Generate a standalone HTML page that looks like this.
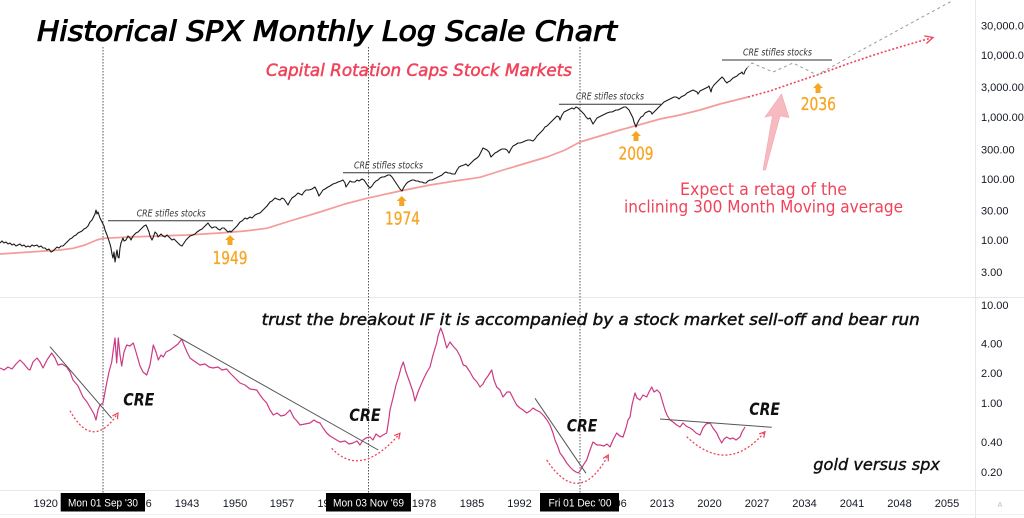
<!DOCTYPE html>
<html>
<head>
<meta charset="utf-8">
<style>
  html,body{margin:0;padding:0;background:#ffffff;}
  svg{display:block;}
  .ax{font-family:"Liberation Sans",Arial,sans-serif;font-size:11px;fill:#131722;}
  .ann{font-family:"DejaVu Sans","Liberation Sans",sans-serif;}
</style>
</head>
<body>
<svg width="1024" height="518" viewBox="0 0 1024 518" xmlns="http://www.w3.org/2000/svg">
  <defs>
    <marker id="chev" markerWidth="8" markerHeight="8" refX="6" refY="3.5" orient="auto" markerUnits="userSpaceOnUse">
      <path d="M0.5,0.5 L6,3.5 L0.5,6.5" fill="none" stroke="#f0435a" stroke-width="1.2"/>
    </marker>
    <marker id="chevBig" markerWidth="12" markerHeight="12" refX="9" refY="5" orient="auto" markerUnits="userSpaceOnUse">
      <path d="M1,1 L9,5 L1,9" fill="none" stroke="#f0435a" stroke-width="1.3"/>
    </marker>
    <clipPath id="topPane"><rect x="0" y="0" width="975" height="297"/></clipPath>
    <clipPath id="botPane"><rect x="0" y="297" width="975" height="193"/></clipPath>
  </defs>

  <rect x="0" y="0" width="1024" height="518" fill="#ffffff"/>

  <!-- frame lines -->
  <line x1="0" y1="297.5" x2="1024" y2="297.5" stroke="#e6e8ee" stroke-width="1"/>
  <line x1="0" y1="490.5" x2="1024" y2="490.5" stroke="#e6e8ee" stroke-width="1"/>
  <line x1="975.5" y1="0" x2="975.5" y2="518" stroke="#e6e8ee" stroke-width="1"/>
  <line x1="0" y1="514.5" x2="1024" y2="514.5" stroke="#f0f1f4" stroke-width="1"/>

  <!-- dotted vertical markers -->
  <g stroke="#555" stroke-width="1" stroke-dasharray="1.5,1.5">
    <line x1="103" y1="47" x2="103" y2="493"/>
    <line x1="368.5" y1="47" x2="368.5" y2="493"/>
    <line x1="580" y1="47" x2="580" y2="493"/>
  </g>

  <!-- ===== TOP PANE ===== -->
  <g clip-path="url(#topPane)">
    <!-- 300 month MA -->
    <polyline fill="none" stroke="#f49b9b" stroke-width="1.7" stroke-linejoin="round"
      points="0,254 30,252 60,250 73,248.3 85,245 96.7,240 103,238.3 130,237 160,236 186.7,235 220,233 245,231 266.7,228.3 290,221 320,212 345,204 366.7,198.3 400,191 430,185 455,181 480,177.3 500,171 520,165 547,157 565,150 580,142 600,136 620,130 635,126 660,119 680,115 700,110 720,104 748,97"/>
    <!-- MA projection dotted -->
    <polyline fill="none" stroke="#f0435a" stroke-width="1.6" stroke-dasharray="2,2" marker-end="url(#chevBig)"
      points="748,97 770,91 790,84 817,75 850,63 880,53 910,44 933,37.5"/>
    <!-- gray dashed projection -->
    <polyline fill="none" stroke="#9a9a9a" stroke-width="1" stroke-dasharray="3,3"
      points="747,68 752,63 773,72 793,63 817,75 870,45.5 916.7,20 952,1"/>

    <!-- SPX -->
    <path fill="none" stroke="#1a1a1a" stroke-width="1.1" stroke-linejoin="round" d="M0,243 L2,241 L4,243 L6,242 L8,244 L10,243 L12,245 L14,244 L16,246 L18,245 L20,244 L22,246 L24,245 L26,247 L28,246 L30,247 L32,245 L34,246 L37,245 L39,247 L41,246 L43,248 L45,248 L47,250 L49,249 L51,252 L53,251 L55,249 L57,247 L59,248 L61,246 L63,246 L65,244 L67,242 L70,239 L72,238 L74,236 L76,235 L78,233 L80,232 L82,231 L84,229 L86,228 L88,226 L90,222 L92,220 L93,218 L95,214 L96,210 L97,214 L98,212 L100,218 L102,222 L104,226 L105,230 L107,235 L108,238 L110,244 L111,248 L112,254 L113,258 L114,252 L115,262 L116,256 L117,250 L118,257 L119,258 L120,248 L121,243 L123,238 L124,241 L126,240 L128,236 L130,238 L131,240 L133,236 L134,235 L136,233 L138,232 L140,230 L142,228 L144,226 L146,225 L147,227 L149,232 L150,236 L152,240 L153,238 L155,232 L157,234 L158,237 L160,235 L161,234 L163,236 L165,237 L167,235 L168,236 L170,238 L172,240 L174,239 L176,241 L178,243 L180,245 L182,246 L184,243 L186,240 L188,238 L190,236 L193,235 L195,234 L197,232 L200,230 L202,229 L205,226 L207,224 L208,223 L210,226 L212,228 L214,227 L216,227 L218,229 L220,230 L222,228 L224,228 L226,230 L228,232 L230,231 L231,232 L233,230 L235,228 L237,226 L240,222 L242,221 L245,218 L247,219 L250,217 L252,218 L255,215 L257,214 L260,213 L262,211 L265,208 L267,206 L270,202 L272,201 L275,198 L277,199 L280,200 L282,198 L284,199 L286,202 L288,205 L290,201 L292,198 L295,196 L298,193 L300,194 L302,195 L304,192 L306,190 L309,190 L312,189 L315,187 L317,191 L319,196 L321,193 L323,190 L325,189 L328,187 L330,186 L333,184 L336,183 L338,182 L341,181 L343,180 L345,183 L346,187 L348,184 L350,181 L352,182 L355,182 L357,180 L359,181 L362,179 L364,180 L366,183 L368,186 L370,188 L372,186 L374,183 L376,181 L378,180 L380,178 L382,177 L384,177 L386,176 L388,175 L390,175 L392,177 L394,180 L396,183 L398,186 L400,189 L402,191 L404,187 L406,184 L408,182 L410,181 L412,180 L414,180 L416,181 L418,181 L420,182 L422,182 L424,183 L426,183 L428,181 L430,180 L432,180 L434,179 L436,178 L438,177 L440,176 L442,175 L444,173 L446,172 L448,173 L450,173 L452,174 L455,174 L457,170 L459,167 L461,166 L464,165 L466,164 L468,166 L470,164 L472,162 L474,160 L477,158 L479,156 L481,152 L483,148 L485,149 L487,150 L489,152 L491,157 L493,155 L495,153 L497,152 L500,150 L502,149 L505,149 L507,150 L509,153 L511,149 L513,146 L515,145 L518,143 L520,143 L523,142 L525,141 L528,140 L530,140 L533,141 L535,139 L537,136 L539,134 L541,132 L543,130 L545,127 L547,126 L549,124 L551,122 L553,120 L555,118 L557,116 L559,117 L560,120 L562,115 L564,112 L566,111 L568,110 L570,109 L572,108 L574,109 L576,107 L578,108 L580,110 L582,112 L584,114 L586,117 L588,119 L590,118 L592,122 L593,124 L595,121 L597,118 L599,117 L601,116 L603,115 L605,114 L607,113 L610,112 L612,112 L614,111 L616,110 L618,110 L620,109 L622,108 L624,107 L626,107 L627,108 L629,110 L631,114 L633,118 L634,122 L636,127 L637,124 L639,120 L641,117 L643,116 L645,113 L647,112 L649,111 L651,112 L652,114 L654,112 L656,110 L658,108 L660,106 L662,104 L664,102 L666,101 L668,100 L670,99 L672,98 L674,97 L676,97 L678,98 L679,99 L681,97 L683,96 L685,95 L687,93 L689,92 L691,91 L693,90 L695,91 L697,92 L698,94 L700,91 L702,90 L704,89 L706,88 L708,87 L709,86 L710,89 L711,92 L712,88 L714,85 L716,83 L718,81 L720,79 L722,77 L724,79 L725,81 L727,83 L728,82 L730,81 L731,80 L733,78 L735,77 L737,76 L739,74 L741,73 L742,72 L743,74 L744,74 L745,71 L747,68"/>

    <!-- CRE stifles stocks lines -->
    <g stroke="#333" stroke-width="1">
      <line x1="108" y1="220.7" x2="233" y2="220.7"/>
      <line x1="343" y1="172.7" x2="433" y2="172.7"/>
      <line x1="559" y1="104.3" x2="661" y2="104.3"/>
      <line x1="722" y1="60" x2="832" y2="60"/>
    </g>
    <g class="ann" font-size="9.5" font-style="italic" fill="#333">
      <text x="136.7" y="216.7" textLength="69" lengthAdjust="spacingAndGlyphs">CRE stifles stocks</text>
      <text x="354" y="168.7" textLength="69" lengthAdjust="spacingAndGlyphs">CRE stifles stocks</text>
      <text x="576" y="99.3" textLength="68" lengthAdjust="spacingAndGlyphs">CRE stifles stocks</text>
      <text x="743" y="55.7" textLength="69" lengthAdjust="spacingAndGlyphs">CRE stifles stocks</text>
    </g>

    <!-- orange arrows -->
    <g fill="#f6a623">
      <polygon points="230,235 235,240 232.5,240 232.5,245 227.5,245 227.5,240 225,240"/>
      <polygon points="401.7,196 406.7,201 404.2,201 404.2,206 399.2,206 399.2,201 396.7,201"/>
      <polygon points="636,131 641,136 638.5,136 638.5,141 633.5,141 633.5,136 631,136"/>
      <polygon points="818,83 823,88 820.5,88 820.5,93 815.5,93 815.5,88 813,88"/>
    </g>
    <g class="ann" font-size="17.5" fill="#f6a623" stroke="#f6a623" stroke-width="0.3">
      <text x="212.5" y="264" textLength="35" lengthAdjust="spacingAndGlyphs">1949</text>
      <text x="385" y="224.5" textLength="35" lengthAdjust="spacingAndGlyphs">1974</text>
      <text x="618.5" y="159.5" textLength="35" lengthAdjust="spacingAndGlyphs">2009</text>
      <text x="800.7" y="110" textLength="35.3" lengthAdjust="spacingAndGlyphs">2036</text>
    </g>

    <!-- big pink arrow -->
    <polygon points="763,170 772.5,115.5 765,117 781.5,94 789,117.5 780,116 765.5,170" fill="#f7b3bb" stroke="#f29aa5" stroke-width="0.6" opacity="0.9"/>

    <!-- expect text -->
    <g class="ann" font-size="16.5" fill="#f0435a">
      <text x="680" y="195" textLength="167" lengthAdjust="spacingAndGlyphs">Expect a retag of the</text>
      <text x="624" y="212.7" textLength="279" lengthAdjust="spacingAndGlyphs">inclining 300 Month Moving average</text>
    </g>
  </g>

  <!-- Title & subtitle -->
  <text class="ann" x="37" y="40.7" font-size="27.5" font-style="italic" fill="#000" stroke="#000" stroke-width="1" textLength="580" lengthAdjust="spacingAndGlyphs">Historical SPX Monthly Log Scale Chart</text>
  <text class="ann" x="266" y="76.2" font-size="16.5" font-style="italic" fill="#f0435a" stroke="#f0435a" stroke-width="0.5" textLength="306" lengthAdjust="spacingAndGlyphs">Capital Rotation Caps Stock Markets</text>

  <!-- ===== BOTTOM PANE ===== -->
  <g clip-path="url(#botPane)">
    <polyline fill="none" stroke="#cc3a84" stroke-width="1.2" stroke-linejoin="round"
      points="0,368 4,370 8,367 12,369 16,364 20,360 24,364 28,369 30,370 33,362 37,358 40,362 43,368 47,360 51.7,353 55,358 58,365 62,364 66.7,367 70,372 73,380 78,386 83,397 87,402 91.7,410 94,414 96,420 98,410 100,405 103,403 105,392 106.7,383 109,372 111.7,362 113,352 115,338 116.7,363 118.3,338 120,355 121.7,366 124,352 126.7,345 130,346 133.3,343 136,352 140,366 143,372 146.7,375 150,365 153.3,345 156,352 158.3,360 161,355 163.3,357 166,352 170,350 174,347 178,344 181.7,339 184,345 187,352 190,358 194,361 200,365 205,364 209,367 213,368 218,367 222,370 226.7,369 230,373 235,378 240,383 245,385 250,389 256.7,390 260,395 263,399 266.7,403 270,410 273.3,415 277,413 281,416 285,415 288,412 290,410 294,418 297,421 300,425 305,424 310,423 314,420 317,422 320,423 323,428 326.7,433 330,436 335,439 340,442 345,441 349,444 353,443 357,441 360,445 363,440 366,438 370,437 373,440 376,434 380,437 383,435 386.7,433 389,418 390,410 393,398 396,385 398.3,378 401,368 403.3,362 406,372 410,383 413,392 415,401 418,392 420,387 424,378 427,372 430,367 433,355 436.7,343 438,336 440.7,328 443,334 446.7,348 450,342 453,346 456.7,350 460,356 463.3,365 466,366 470,372 473.3,378 477,382 480,387 483,384 485,380 488,376 491.7,370 494,380 496.7,387 500,390 503,397 507,392 510,392 513,398 516.7,405 520,408 523,410 526.7,413 530,411 533,408 536,410 540,412 544,416 547,420 550,425 553,433 555,440 558,447 560,453 563,457 566.7,463 570,467 573,470 576,472 578.3,473 580,471 581.7,468 584,464 586.7,460 590,450 593,442 597,445 600,445 604,446 607,444 610,447 613,440 616.7,433 620,436 623,437 626,428 628,420 630,417 632,405 635,393 637,398 640,400 643,395 646.7,397 649,392 651.7,387 654,392 657,390 660,393 662,400 665,410 667,415 670,420 673,422 676.7,425 680,427 683,423 686,426 690,428 693,430 696,433 700,435 703,428 706,424 710,423 713,428 716.7,433 719,438 721.7,443 724,439 726.7,437 730,439 733,438 736,440 740,437 742,432 745,427"/>

    <!-- trend lines -->
    <g stroke="#555" stroke-width="1">
      <line x1="50" y1="346.7" x2="111.7" y2="418.3"/>
      <line x1="173.3" y1="334.3" x2="378.3" y2="450"/>
      <line x1="535" y1="398.3" x2="586" y2="473.3"/>
      <line x1="660" y1="419" x2="771.7" y2="427.3"/>
    </g>

    <!-- red dotted arcs -->
    <g fill="none" stroke="#f0435a" stroke-width="1.3" stroke-dasharray="2,2">
      <path d="M70,410.7 Q92.6,451.6 118,413" marker-end="url(#chev)"/>
      <path d="M331.7,448.3 Q360.8,479.2 400,433.3" marker-end="url(#chev)"/>
      <path d="M546.7,460 Q579.1,509.1 608.3,455" marker-end="url(#chev)"/>
      <path d="M686.7,436.7 Q727.6,475.8 765,431.7" marker-end="url(#chev)"/>
    </g>

    <!-- CRE labels -->
    <g class="ann" font-size="16.5" font-style="italic" font-weight="bold" fill="#111">
      <text x="123.3" y="405.7" textLength="31" lengthAdjust="spacingAndGlyphs">CRE</text>
      <text x="349.3" y="421" textLength="31.4" lengthAdjust="spacingAndGlyphs">CRE</text>
      <text x="566.7" y="431.7" textLength="30.6" lengthAdjust="spacingAndGlyphs">CRE</text>
      <text x="749.3" y="415" textLength="30.7" lengthAdjust="spacingAndGlyphs">CRE</text>
    </g>

    <text class="ann" x="261.7" y="325" font-size="16" font-style="italic" fill="#111" stroke="#111" stroke-width="0.5" textLength="658" lengthAdjust="spacingAndGlyphs">trust the breakout IF it is accompanied by a stock market sell-off and bear run</text>
    <text class="ann" x="813.3" y="470" font-size="16" font-style="italic" fill="#111" stroke="#111" stroke-width="0.4" textLength="126.7" lengthAdjust="spacingAndGlyphs">gold versus spx</text>
  </g>

  <!-- ===== RIGHT AXIS ===== -->
  <g class="ax" dominant-baseline="central">
    <text x="981" y="26.7">30,000.00</text>
    <text x="981" y="56">10,000.00</text>
    <text x="981" y="88">3,000.00</text>
    <text x="981" y="118">1,000.00</text>
    <text x="981" y="150.5">300.00</text>
    <text x="981" y="180">100.00</text>
    <text x="981" y="211.5">30.00</text>
    <text x="981" y="241">10.00</text>
    <text x="981" y="273">3.00</text>
    <text x="981" y="306">10.00</text>
    <text x="981" y="344.5">4.00</text>
    <text x="981" y="374">2.00</text>
    <text x="981" y="404">1.00</text>
    <text x="981" y="443">0.40</text>
    <text x="981" y="472.8">0.20</text>
  </g>
  <text x="1000" y="507" font-family="Liberation Sans, sans-serif" font-size="7" fill="#bbb" text-anchor="middle">A</text>

  <!-- ===== TIME AXIS ===== -->
  <g class="ax" text-anchor="middle">
    <text x="45.7" y="507">1920</text>
    <text x="139.5" y="507">1936</text>
    <text x="187" y="507">1943</text>
    <text x="235" y="507">1950</text>
    <text x="282" y="507">1957</text>
    <text x="329.6" y="507">1964</text>
    <text x="424" y="507">1978</text>
    <text x="472" y="507">1985</text>
    <text x="519.5" y="507">1992</text>
    <text x="614.5" y="507">2006</text>
    <text x="662" y="507">2013</text>
    <text x="709.5" y="507">2020</text>
    <text x="757" y="507">2027</text>
    <text x="804.5" y="507">2034</text>
    <text x="852" y="507">2041</text>
    <text x="899.5" y="507">2048</text>
    <text x="947" y="507">2055</text>
  </g>
  <!-- date boxes -->
  <rect x="60.7" y="493" width="84.3" height="18.5" fill="#000"/>
  <rect x="326" y="493" width="85" height="18.5" fill="#000"/>
  <rect x="540" y="493" width="79" height="18.5" fill="#000"/>
  <g font-family="Liberation Sans, Arial, sans-serif" font-size="11" fill="#fff">
    <text x="68" y="506.5" textLength="70" lengthAdjust="spacingAndGlyphs">Mon 01 Sep '30</text>
    <text x="333" y="506.5" textLength="71" lengthAdjust="spacingAndGlyphs">Mon 03 Nov '69</text>
    <text x="548.5" y="506.5" textLength="63" lengthAdjust="spacingAndGlyphs">Fri 01 Dec '00</text>
  </g>
</svg>
</body>
</html>
